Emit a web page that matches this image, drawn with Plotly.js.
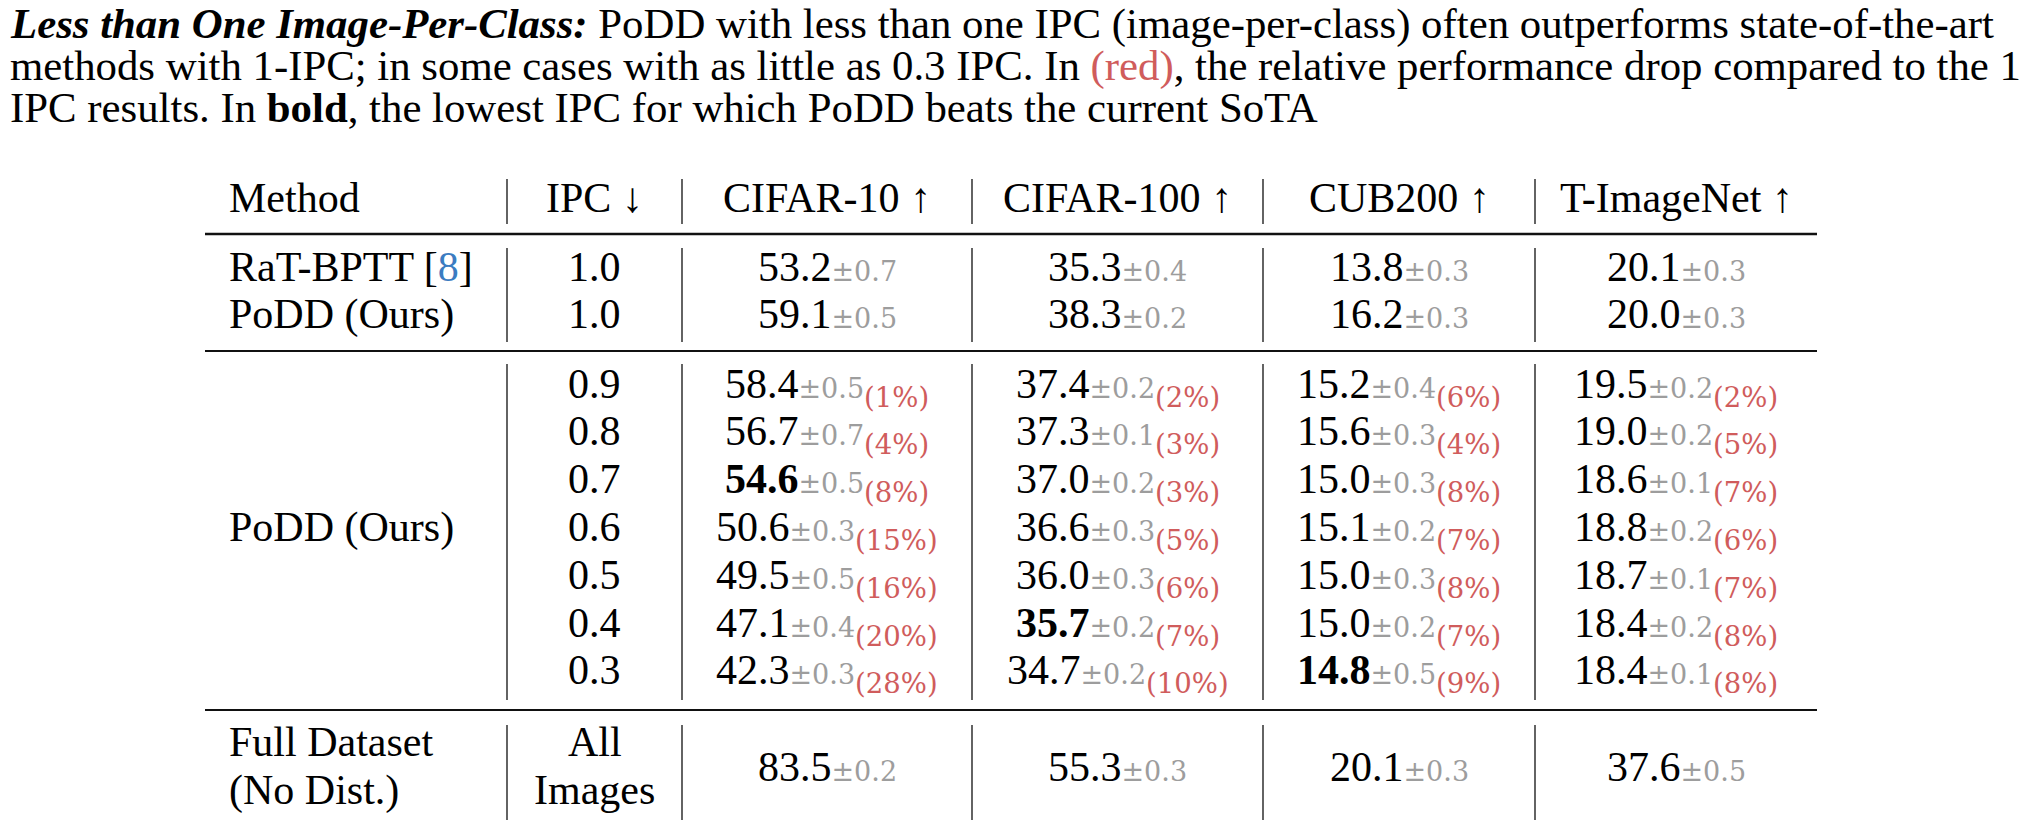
<!DOCTYPE html>
<html>
<head>
<meta charset="utf-8">
<script src="https://cdn.plot.ly/plotly-3.0.1.min.js"></script>
<style>html,body{margin:0;padding:0;background:#fff;}#chart{width:2036px;height:820px;}</style>
</head>
<body>
<div id="chart"></div>
<script>
// ---------------- DATA ----------------
const captionLead = 'Less than One Image-Per-Class:';
const captionLines = [
  ' PoDD with less than one IPC (image-per-class) often outperforms state-of-the-art',
  'methods with 1-IPC; in some cases with as little as 0.3 IPC. In ',
  'IPC results. In '
];
const headers = ['Method', 'IPC \u2193', 'CIFAR-10 \u2191', 'CIFAR-100 \u2191', 'CUB200 \u2191', 'T-ImageNet \u2191'];
const datasets = ['CIFAR-10', 'CIFAR-100', 'CUB200', 'T-ImageNet'];

const ratIPC = '1.0';
const ratMean = [53.2, 35.3, 13.8, 20.1];
const ratStd = [0.7, 0.4, 0.3, 0.3];
const podd1IPC = '1.0';
const podd1Mean = [59.1, 38.3, 16.2, 20.0];
const podd1Std = [0.5, 0.2, 0.3, 0.3];

const ipcLevels = [0.9, 0.8, 0.7, 0.6, 0.5, 0.4, 0.3];
const cifar10Mean = [58.4, 56.7, 54.6, 50.6, 49.5, 47.1, 42.3];
const cifar10Std = [0.5, 0.7, 0.5, 0.3, 0.5, 0.4, 0.3];
const cifar10Drop = [1, 4, 8, 15, 16, 20, 28];
const cifar100Mean = [37.4, 37.3, 37.0, 36.6, 36.0, 35.7, 34.7];
const cifar100Std = [0.2, 0.1, 0.2, 0.3, 0.3, 0.2, 0.2];
const cifar100Drop = [2, 3, 3, 5, 6, 7, 10];
const cubMean = [15.2, 15.6, 15.0, 15.1, 15.0, 15.0, 14.8];
const cubStd = [0.4, 0.3, 0.3, 0.2, 0.3, 0.2, 0.5];
const cubDrop = [6, 4, 8, 7, 8, 7, 9];
const tinMean = [19.5, 19.0, 18.6, 18.8, 18.7, 18.4, 18.4];
const tinStd = [0.2, 0.2, 0.1, 0.2, 0.1, 0.2, 0.1];
const tinDrop = [2, 5, 7, 6, 7, 8, 8];
const boldIPC = [0.7, 0.4, 0.3, null];

const fullMean = [83.5, 55.3, 20.1, 37.6];
const fullStd = [0.2, 0.3, 0.3, 0.5];

// ---------------- STYLE / LAYOUT ----------------
const W = 2036, H = 820;
const SERIF = 'Liberation Serif, Times New Roman, serif';
const GRAY = '#9d9d9d', RED = '#d05c5c', BLUE = '#3b7cc1';
const FS = 42, CAP_FS = 42.8;
const ASC = 0.891;

const SEP = [507, 682, 972, 1263, 1535];
const TL = 205, TR = 1817;
const colC = [(SEP[0] + SEP[1]) / 2, (SEP[1] + SEP[2]) / 2, (SEP[2] + SEP[3]) / 2, (SEP[3] + SEP[4]) / 2, (SEP[4] + TR) / 2];
const METHOD_X = 229;

const headerBase = 212;
const block1Base = [281, 328];
const block2Start = 398, block2Step = 47.8;
const fullBase = [756, 804];
const rules = [{y: 234, w: 2.6}, {y: 351, w: 2.0}, {y: 710, w: 2.0}];
const vsegs = [[179, 224], [248, 342], [364, 700], [725, 820]];

function stdSpan(s) {
  return '<span style="font-family:DejaVu Serif;font-size:27px;color:' + GRAY + '">\u00b1' + s.toFixed(1) + '</span>';
}
function dropSpan(d) {
  return '<sub><span style="font-family:DejaVu Serif;font-size:27.5px;color:' + RED + '">(' + d + '%)</span></sub>';
}

const annotations = [];
function addText(text, x, base, anchor, size) {
  const fs = size || FS;
  annotations.push({
    text: text, x: x / W, y: 1 - (base - ASC * fs) / H, xref: 'paper', yref: 'paper',
    xanchor: anchor, yanchor: 'top', showarrow: false,
    borderpad: 0, borderwidth: 0,
    font: {family: SERIF, size: fs, color: '#000'}
  });
}

// caption
const capBase = [38, 80, 122];
addText('<b><i>' + captionLead + '</i></b>' + captionLines[0], 10, capBase[0], 'left', CAP_FS);
addText(captionLines[1] + '<span style="color:' + RED + '">(red)</span>, the relative performance drop compared to the 1', 10, capBase[1], 'left', CAP_FS);
addText(captionLines[2] + '<b>bold</b>, the lowest IPC for which PoDD beats the current SoTA', 10, capBase[2], 'left', CAP_FS);

// header
addText(headers[0], METHOD_X, headerBase, 'left');
for (let i = 1; i < headers.length; i++) addText(headers[i], colC[i - 1], headerBase, 'center');

// block 1
addText('RaT-BPTT [<span style="color:' + BLUE + '">8</span>]', METHOD_X, block1Base[0], 'left');
addText('PoDD (Ours)', METHOD_X, block1Base[1], 'left');
addText(ratIPC, colC[0], block1Base[0], 'center');
addText(podd1IPC, colC[0], block1Base[1], 'center');
for (let d = 0; d < datasets.length; d++) {
  addText(ratMean[d].toFixed(1) + stdSpan(ratStd[d]), colC[d + 1], block1Base[0], 'center');
  addText(podd1Mean[d].toFixed(1) + stdSpan(podd1Std[d]), colC[d + 1], block1Base[1], 'center');
}

// block 2
const means = [cifar10Mean, cifar100Mean, cubMean, tinMean];
const stds = [cifar10Std, cifar100Std, cubStd, tinStd];
const drops = [cifar10Drop, cifar100Drop, cubDrop, tinDrop];
for (let r = 0; r < ipcLevels.length; r++) {
  const base = block2Start + r * block2Step;
  addText(ipcLevels[r].toFixed(1), colC[0], base, 'center');
  for (let d = 0; d < datasets.length; d++) {
    let m = means[d][r].toFixed(1);
    if (boldIPC[d] === ipcLevels[r]) m = '<b>' + m + '</b>';
    addText(m + stdSpan(stds[d][r]) + dropSpan(drops[d][r]), colC[d + 1], base, 'center');
  }
}
addText('PoDD (Ours)', METHOD_X, block2Start + 3 * block2Step, 'left');

// full dataset
addText('Full Dataset', METHOD_X, fullBase[0], 'left');
addText('(No Dist.)', METHOD_X, fullBase[1], 'left');
addText('All', colC[0], fullBase[0], 'center');
addText('Images', colC[0], fullBase[1], 'center');
const fullMid = (fullBase[0] + fullBase[1]) / 2 + 1;
for (let d = 0; d < datasets.length; d++) {
  addText(fullMean[d].toFixed(1) + stdSpan(fullStd[d]), colC[d + 1], fullMid, 'center');
}

// lines
const shapes = [];
rules.forEach(r => shapes.push({type: 'line', xref: 'x', yref: 'y', x0: TL, x1: TR, y0: r.y, y1: r.y, line: {color: '#111', width: r.w}}));
SEP.forEach(x => vsegs.forEach(s => shapes.push({type: 'line', xref: 'x', yref: 'y', x0: x, x1: x, y0: s[0], y1: s[1], line: {color: '#222', width: 1.4}})));

const layout = {
  width: W, height: H,
  margin: {l: 0, r: 0, t: 0, b: 0, pad: 0},
  paper_bgcolor: '#fff', plot_bgcolor: '#fff',
  xaxis: {range: [0, W], visible: false, fixedrange: true},
  yaxis: {range: [H, 0], visible: false, fixedrange: true},
  showlegend: false,
  annotations: annotations,
  shapes: shapes
};
Plotly.newPlot('chart', [{x: [], y: [], type: 'scatter', mode: 'markers', hoverinfo: 'skip'}], layout, {displayModeBar: false, staticPlot: true});
</script>
</body>
</html>
